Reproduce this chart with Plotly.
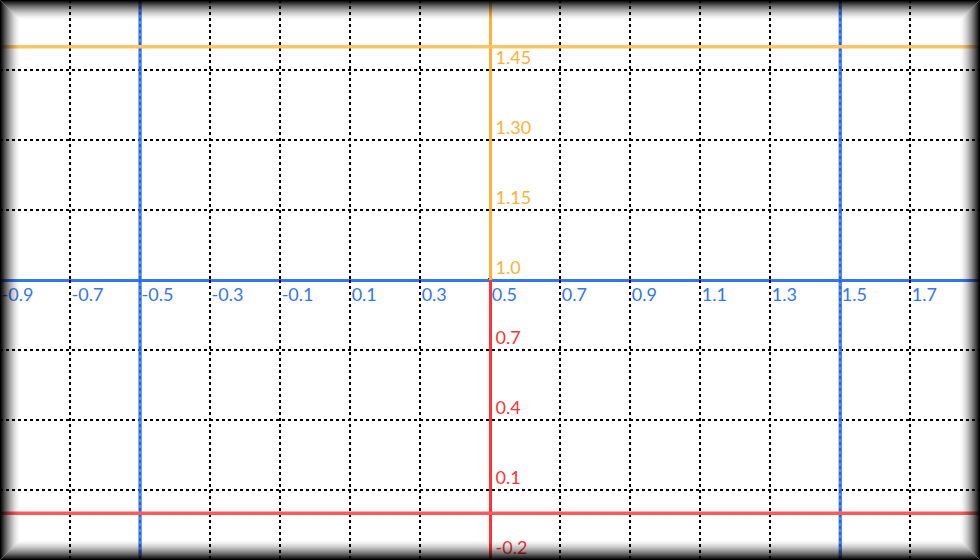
import plotly.graph_objects as go

# tick labels / values
x_ticks = [-0.9, -0.7, -0.5, -0.3, -0.1, 0.1, 0.3, 0.5, 0.7, 0.9, 1.1, 1.3, 1.5, 1.7]
x_labels = ["-0.9", "-0.7", "-0.5", "-0.3", "-0.1", "0.1", "0.3", "0.5", "0.7", "0.9", "1.1", "1.3", "1.5", "1.7"]
y_up_ticks = [1.0, 1.15, 1.30, 1.45]
y_up_labels = ["1.0", "1.15", "1.30", "1.45"]
y_low_ticks = [-0.2, 0.1, 0.4, 0.7]
y_low_labels = ["-0.2", "0.1", "0.4", "0.7"]

# reference lines
x_marks = [-0.5, 1.5]
y_up_marks = [1.5]
y_low_marks = [0.0]

# origin point
origin_x = [0.5]
origin_y = [1.0]

BLUE = "#3377ee"
ORANGE = "#ffb03a"
RED = "#ff3333"
FONT = "Lato"
FS = 18

fig = go.Figure()
fig.add_trace(go.Scatter(x=origin_x, y=origin_y, mode="markers",
                         marker=dict(color="black", size=5), xaxis="x", yaxis="y",
                         showlegend=False, hoverinfo="skip", cliponaxis=False))
fig.add_trace(go.Scatter(x=origin_x, y=[0.5], mode="markers",
                         marker=dict(color="rgba(0,0,0,0)", size=1), xaxis="x", yaxis="y2",
                         showlegend=False, hoverinfo="skip"))

shapes = []
for xv in x_marks:
    shapes.append(dict(type="line", xref="x", yref="paper", x0=xv, x1=xv, y0=0, y1=1,
                       line=dict(color="rgba(51,119,238,0.85)", width=3.5), layer="above"))
for yv in y_up_marks:
    shapes.append(dict(type="line", xref="paper", yref="y", x0=0, x1=1, y0=yv, y1=yv,
                       line=dict(color="#ffc466", width=3.5), layer="above"))
for yv in y_low_marks:
    shapes.append(dict(type="line", xref="paper", yref="y2", x0=0, x1=1, y0=yv, y1=yv,
                       line=dict(color="#ff5a5a", width=3.5), layer="above"))

# vignette (inset shadow)
W, H = 980, 560
N = 20
for i in range(N):
    a = (1 - i / N) ** 1.6
    shapes.append(dict(type="rect", xref="paper", yref="paper",
                       x0=(i + 0.5) / W, x1=1 - (i + 0.5) / W,
                       y0=(i + 0.5) / H, y1=1 - (i + 0.5) / H,
                       line=dict(color=f"rgba(0,0,0,{a:.3f})", width=1), layer="above"))

grid = dict(showgrid=True, gridcolor="black", gridwidth=1.5, griddash="dot", zeroline=False)

fig.update_layout(
    width=W, height=H,
    margin=dict(l=0, r=0, t=0, b=0),
    paper_bgcolor="white", plot_bgcolor="white",
    showlegend=False,
    font=dict(family=FONT, size=FS),
    shapes=shapes,
    xaxis=dict(range=[-0.9001, 1.899], anchor="free", position=0.5,
               tickmode="array", tickvals=x_ticks, ticktext=x_labels,
               showline=True, linecolor=BLUE, linewidth=3,
               tickfont=dict(color=BLUE, family=FONT, size=FS),
               ticklabelposition="outside right", ticks="", ticklabelstandoff=-3,
               **grid),
    yaxis=dict(domain=[0.5, 1], range=[1.0, 1.6], anchor="free", position=0.5, side="right",
               tickmode="array", tickvals=y_up_ticks, ticktext=y_up_labels,
               showline=True, linecolor=ORANGE, linewidth=3,
               tickfont=dict(color=ORANGE, family=FONT, size=FS),
               ticklabelposition="outside top", ticks="", ticklabelstandoff=0,
               **grid),
    yaxis2=dict(domain=[0, 0.5], range=[-0.2, 1.0], anchor="free", position=0.5, side="right",
                tickmode="array", tickvals=y_low_ticks, ticktext=y_low_labels,
                showline=True, linecolor=RED, linewidth=3,
                tickfont=dict(color=RED, family=FONT, size=FS),
                ticklabelposition="outside top", ticks="", ticklabelstandoff=0,
                **grid),
)

fig.write_html("out.html", config={"displayModeBar": False},
               post_script="document.body.style.margin='0';document.body.style.overflow='hidden';")
